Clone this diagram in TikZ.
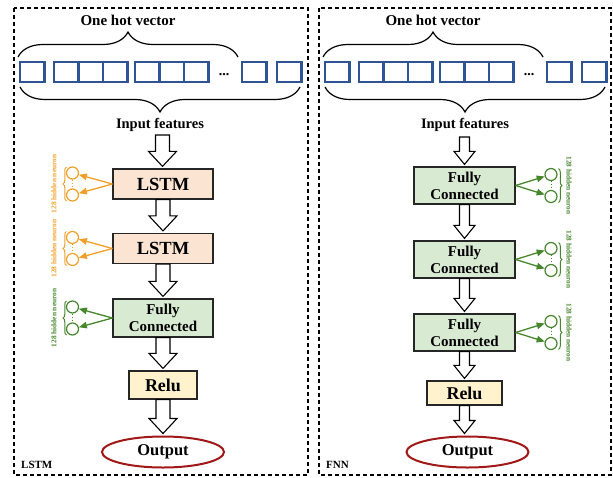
\documentclass[tikz,border=0pt]{standalone}
\usepackage{fontspec}
\setmainfont{Liberation Serif}
\usetikzlibrary{decorations.pathreplacing,calc,arrows.meta,shapes.geometric}
\definecolor{sqblue}{RGB}{47,84,150}
\definecolor{lstmfill}{RGB}{252,228,210}
\definecolor{fcfill}{RGB}{217,234,211}
\definecolor{relufill}{RGB}{255,242,204}
\definecolor{outred}{RGB}{160,24,24}
\definecolor{norange}{RGB}{240,160,40}
\definecolor{ngreen}{RGB}{70,135,45}
\tikzset{
 frame/.style={draw, dash pattern=on 4pt off 3pt, line width=1.1pt},
 sq/.style={draw=sqblue, line width=2.2pt},
 brc/.style={decorate, decoration={brace, amplitude=25pt}, line width=1.2pt},
 boxbase/.style={draw=black!85, line width=1.2pt, inner sep=1pt},
 lstmbox/.style={boxbase, fill=lstmfill, minimum width=100pt, minimum height=30pt, font=\fontsize{18.5}{20}\selectfont\bfseries},
 fcbox/.style={boxbase, fill=fcfill, minimum width=100pt, minimum height=38pt, align=center, font=\fontsize{15}{17}\selectfont\bfseries},
 relubox/.style={boxbase, fill=relufill, font=\fontsize{18}{20}\selectfont\bfseries},
 outnode/.style={ellipse, draw=outred, line width=2pt, minimum width=122pt, minimum height=31pt, inner sep=0pt, font=\fontsize{16.5}{18}\selectfont\bfseries},
 barrow/.style={draw=black, line width=1.1pt, fill=white, line join=miter},
 neuron/.style={circle, line width=1.2pt, minimum size=12pt, inner sep=0pt},
 narr/.style={line width=1.3pt, -{Triangle[length=8pt,width=6.5pt]}},
 nbrace/.style={decorate, decoration={brace, amplitude=3.5pt}, line width=1pt},
 nlabel/.style={font=\fontsize{7.3}{8}\selectfont\bfseries, inner sep=0pt},
 ttl/.style={font=\fontsize{15}{17}\selectfont\bfseries, inner sep=0pt},
 corner/.style={font=\fontsize{11}{12}\selectfont\bfseries, inner sep=0pt, anchor=west},
}
% block arrow: #1 from, #2 to, #3 half shaft, #4 half head, #5 head length
\newcommand\blockarrow[5]{\path[barrow] let \p1=(#1), \p2=(#2) in
  (\x1-#3,\y1) -- (\x1+#3,\y1) -- (\x1+#3,\y2+2pt+#5) -- (\x1+#4,\y2+2pt+#5)
  -- (\x1,\y2+2pt) -- (\x1-#4,\y2+2pt+#5) -- (\x1-#3,\y2+2pt+#5) -- cycle;}
% neurons to the left: #1 box, #2 y, #3 colour, #4 prefix
\newcommand\neurL[4]{%
 \node[neuron, draw=#3] (#4a) at (72.5,#2-11) {};
 \node[neuron, draw=#3] (#4b) at (72.5,#2+11) {};
 \draw[#3, dotted, line width=1pt] (#4a.south) -- (#4b.north);
 \draw[narr, #3] (#1.west) -- (#4a);
 \draw[narr, #3] (#1.west) -- (#4b);
 \draw[nbrace, #3] (66.5,#2+17) -- (66.5,#2-17);
 \node[nlabel, text=#3, rotate=90] (#4t) at (54,#2) {128 hidden neuron};}
\newcommand\neurR[4]{%
 \node[neuron, draw=#3] (#4a) at (551,#2-11) {};
 \node[neuron, draw=#3] (#4b) at (551,#2+11) {};
 \draw[#3, dotted, line width=1pt] (#4a.south) -- (#4b.north);
 \draw[narr, #3] (#1.east) -- (#4a);
 \draw[narr, #3] (#1.east) -- (#4b);
 \draw[nbrace, #3] (558.5,#2-17) -- (558.5,#2+17);
 \node[nlabel, text=#3, rotate=-90] (#4t) at (569,#2) {128 hidden neuron};}
\begin{document}
\begin{tikzpicture}[x=1pt,y=-1pt]
\useasboundingbox (0,0) rectangle (613,477);
% frames
\draw[frame] (14,8) rectangle (308,475);
\draw[frame] (319,8) rectangle (611,475);
\node[corner] (lblL) at (21,465) {LSTM};
\node[corner] (lblR) at (326,465) {FNN};
% one-hot vectors
\foreach \dx in {0,305} {
  \foreach \x in {20,54,78.5,103,135,159.5,184,242,277}
    \draw[sq] (\x+\dx,62) rectangle ++(24.5,20);
}
\node[font=\fontsize{14}{14}\selectfont\bfseries, anchor=base, inner sep=0pt] (dotsL) at (224,75) {...};
\node[font=\fontsize{14}{14}\selectfont\bfseries, anchor=base, inner sep=0pt] (dotsR) at (529,75) {...};
\draw[brc] (18,57) -- (238,57);
\draw[brc] (300,87) -- (20,87);
\draw[brc] (323,57) -- (543,57);
\draw[brc] (605,87) -- (325,87);
\node[ttl] (ohL) at (128,20) {One hot vector};
\node[ttl] (ohR) at (433,20) {One hot vector};
\node[font=\fontsize{14.5}{16}\selectfont\bfseries, inner sep=0pt] (ifL) at (160,125) {Input features};
\node[font=\fontsize{14.5}{16}\selectfont\bfseries, inner sep=0pt] (ifR) at (465,125) {Input features};
% left chain
\node[lstmbox] (lstm1) at (163,184) {LSTM};
\node[lstmbox] (lstm2) at (163,248.5) {LSTM};
\node[fcbox] (fcL) at (163,318) {Fully\\Connected};
\node[relubox, minimum width=68pt, minimum height=28pt] (reluL) at (163,385) {Relu};
\node[outnode] (outL) at (163,452) {Output};
\coordinate (inL) at (162.5,135);
\blockarrow{inL}{lstm1.north}{7pt}{14pt}{15pt}
\blockarrow{lstm1.south}{lstm2.north}{7pt}{14pt}{15pt}
\blockarrow{lstm2.south}{fcL.north}{7pt}{14pt}{15pt}
\blockarrow{fcL.south}{reluL.north}{7pt}{14pt}{15pt}
\blockarrow{reluL.south}{outL.north}{7pt}{14pt}{15pt}
\neurL{lstm1}{184}{norange}{nl1}
\neurL{lstm2}{248.5}{norange}{nl2}
\neurL{fcL}{318}{ngreen}{nl3}
% right chain
\node[fcbox, minimum width=101pt, minimum height=37pt] (fc1) at (464.5,185.5) {Fully\\Connected};
\node[fcbox, minimum width=101pt, minimum height=37pt] (fc2) at (464.5,259.5) {Fully\\Connected};
\node[fcbox, minimum width=101pt, minimum height=37pt] (fc3) at (464.5,332.5) {Fully\\Connected};
\node[relubox, minimum width=75pt, minimum height=24pt] (reluR) at (464.5,393) {Relu};
\node[outnode] (outR) at (467.5,452) {Output};
\coordinate (inR) at (464.5,137);
\blockarrow{inR}{fc1.north}{5pt}{10.5pt}{13pt}
\blockarrow{fc1.south}{fc2.north}{5pt}{10.5pt}{13pt}
\blockarrow{fc2.south}{fc3.north}{5pt}{10.5pt}{13pt}
\blockarrow{fc3.south}{reluR.north}{5pt}{10.5pt}{13pt}
\blockarrow{reluR.south}{outR.north}{5pt}{10.5pt}{13pt}
\neurR{fc1}{185.5}{ngreen}{nr1}
\neurR{fc2}{259.5}{ngreen}{nr2}
\neurR{fc3}{332.5}{ngreen}{nr3}
\end{tikzpicture}
\end{document}
